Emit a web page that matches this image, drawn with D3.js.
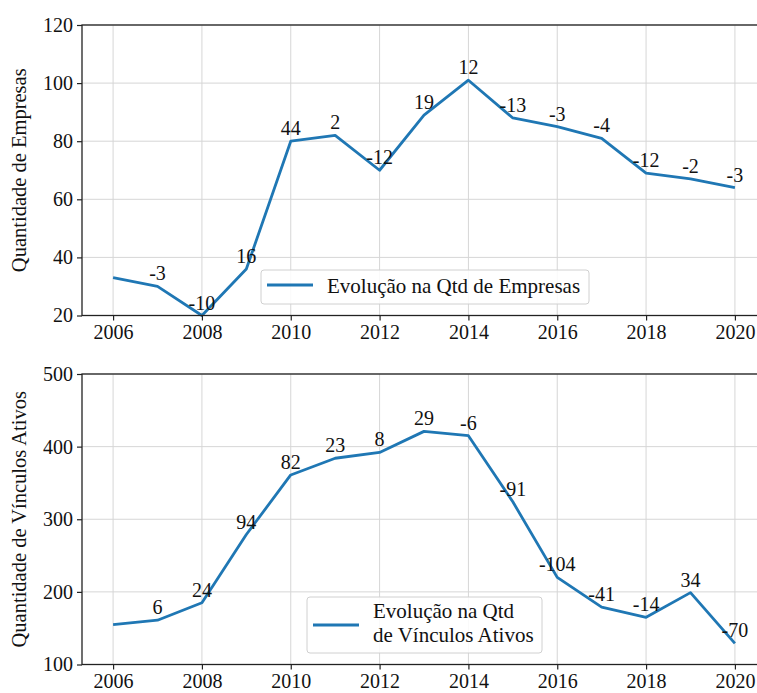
<!DOCTYPE html>
<html>
<head>
<meta charset="utf-8">
<script src="https://cdn.jsdelivr.net/npm/d3@7"></script>
<style>
  html, body { margin: 0; padding: 0; background: #fff; }
  svg { display: block; }
  text { font-family: "Liberation Serif", "DejaVu Serif", serif; fill: #111; }
</style>
</head>
<body>
<svg id="chart" width="757" height="693"></svg>
<script>
const years = [2006, 2007, 2008, 2009, 2010, 2011, 2012, 2013, 2014, 2015, 2016, 2017, 2018, 2019, 2020];
const empresas = [33, 30, 20, 36, 80, 82, 70, 89, 101, 88, 85, 81, 69, 67, 64];
const empresasDelta = [null, -3, -10, 16, 44, 2, -12, 19, 12, -13, -3, -4, -12, -2, -3];
const vinculos = [155, 161, 185, 279, 361, 384, 392, 421, 415, 324, 220, 179, 165, 199, 129];
const vinculosDelta = [null, 6, 24, 94, 82, 23, 8, 29, -6, -91, -104, -41, -14, 34, -70];
const xTicks = [2006, 2008, 2010, 2012, 2014, 2016, 2018, 2020];
const yTicksTop = [20, 40, 60, 80, 100, 120];
const yTicksBottom = [100, 200, 300, 400, 500];

const svg = d3.select("#chart");
const FS = 20;
const FS_LABEL = 20.5;
const FS_LEGEND = 21;
const lineColor = "#1f77b4";

function panel(cfg) {
  const g = svg.append("g");
  const x = d3.scaleLinear().domain([2005.3, 2020.7]).range([82, 766]);
  const y = d3.scaleLinear().domain(cfg.yDomain).range([cfg.bottom, cfg.top]);

  // grid
  g.append("g").selectAll("line.vg").data(xTicks).join("line")
    .attr("x1", d => x(d)).attr("x2", d => x(d))
    .attr("y1", cfg.top).attr("y2", cfg.bottom)
    .attr("stroke", "#d6d6d6").attr("stroke-width", 1);
  g.append("g").selectAll("line.hg").data(cfg.yTicks).join("line")
    .attr("x1", 82).attr("x2", 766)
    .attr("y1", d => y(d)).attr("y2", d => y(d))
    .attr("stroke", "#d6d6d6").attr("stroke-width", 1);

  // line
  const line = d3.line().x((d, i) => x(years[i])).y(d => y(d));
  g.append("path").datum(cfg.values)
    .attr("d", line).attr("fill", "none")
    .attr("stroke", lineColor).attr("stroke-width", 2.8)
    .attr("stroke-linejoin", "round");

  // annotations
  g.append("g").selectAll("text").data(cfg.deltas.map((d, i) => ({d, i})).filter(o => o.d !== null))
    .join("text")
    .attr("x", o => x(years[o.i]))
    .attr("y", o => y(cfg.values[o.i]) - 6)
    .attr("text-anchor", "middle")
    .attr("font-size", FS)
    .text(o => String(o.d));

  // axes
  const xAxis = d3.axisBottom(x).tickValues(xTicks).tickFormat(d3.format("d")).tickSize(5).tickPadding(4);
  const yAxis = d3.axisLeft(y).tickValues(cfg.yTicks).tickFormat(d3.format("d")).tickSize(5).tickPadding(4);
  const gx = g.append("g").attr("transform", `translate(0,${cfg.bottom})`).call(xAxis);
  const gy = g.append("g").attr("transform", `translate(82,0)`).call(yAxis);
  [gx, gy].forEach(a => {
    a.select(".domain").remove();
    a.selectAll(".tick line").attr("stroke", "#222").attr("stroke-width", 1.2);
    a.selectAll(".tick text").attr("font-size", FS).attr("font-family", "Liberation Serif, serif").attr("fill", "#111");
  });

  // spines
  g.append("rect").attr("x", 82).attr("y", cfg.top).attr("width", 684).attr("height", cfg.bottom - cfg.top)
    .attr("fill", "none").attr("stroke", "#222").attr("stroke-width", 1.3);

  // y label
  g.append("text")
    .attr("transform", `translate(${cfg.ylabelX},${(cfg.top + cfg.bottom) / 2}) rotate(-90)`)
    .attr("text-anchor", "middle").attr("font-size", FS_LABEL)
    .text(cfg.ylabel);

  // legend
  const L = cfg.legend;
  g.append("rect").attr("x", L.x).attr("y", L.y).attr("width", L.w).attr("height", L.h)
    .attr("rx", 3).attr("fill", "white").attr("fill-opacity", 0.85)
    .attr("stroke", "#d0d0d0").attr("stroke-width", 1);
  g.append("line").attr("x1", L.x + 6).attr("x2", L.x + 52)
    .attr("y1", L.lineY).attr("y2", L.lineY)
    .attr("stroke", lineColor).attr("stroke-width", 2.8);
  L.lines.forEach((t, i) => {
    g.append("text").attr("x", L.x + 66).attr("y", L.textY + i * 24)
      .attr("font-size", FS_LEGEND).text(t);
  });
}

panel({
  top: 25, bottom: 315.5, yDomain: [20, 120], yTicks: yTicksTop,
  values: empresas, deltas: empresasDelta,
  ylabel: "Quantidade de Empresas", ylabelX: 26,
  legend: { x: 261, y: 270, w: 328, h: 34, lineY: 285, textY: 293, lines: ["Evolução na Qtd de Empresas"] }
});

panel({
  top: 374, bottom: 664.5, yDomain: [100, 500], yTicks: yTicksBottom,
  values: vinculos, deltas: vinculosDelta,
  ylabel: "Quantidade de Vínculos Ativos", ylabelX: 26,
  legend: { x: 307, y: 597, w: 235, h: 56, lineY: 625, textY: 618, lines: ["Evolução na Qtd", "de Vínculos Ativos"] }
});
</script>
</body>
</html>
